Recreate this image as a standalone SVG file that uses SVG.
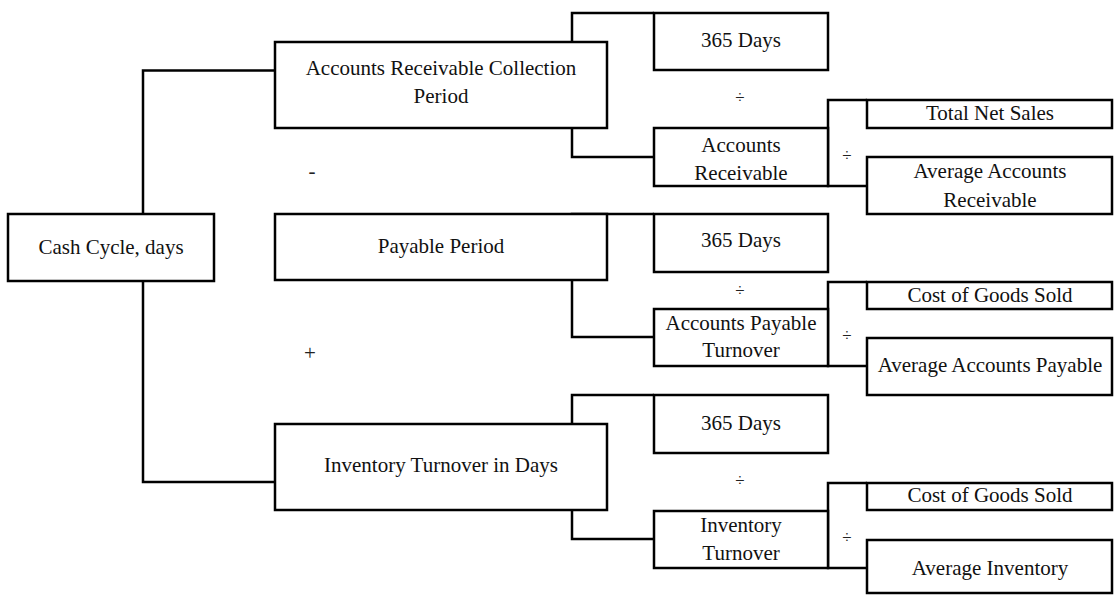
<svg xmlns="http://www.w3.org/2000/svg" width="1114" height="595" viewBox="0 0 1114 595">
  <style>
    .box { fill: #ffffff; stroke: #000000; stroke-width: 2.5; }
    .wire { fill: none; stroke: #000000; stroke-width: 2.5; }
    .lbl { font-family: "Liberation Serif", "Times New Roman", serif; font-size: 21px; fill: #111111; text-anchor: middle; }
    .op { font-family: "Liberation Serif", "Times New Roman", serif; font-size: 17px; fill: #222222; text-anchor: middle; }
    .sign { font-family: "Liberation Serif", "Times New Roman", serif; font-size: 21px; fill: #222222; text-anchor: middle; }
  </style>
  <rect x="0" y="0" width="1114" height="595" fill="#ffffff"/>

  <!-- connectors -->
  <g id="connectors">
    <path class="wire" d="M143 214 V70.5 H275"/>
    <path class="wire" d="M143 281 V482 H275"/>
    <path class="wire" d="M654 13 H572 V157 H654"/>
    <path class="wire" d="M867 100 H828 V186 H867"/>
    <path class="wire" d="M654 214 H572 V337 H654"/>
    <path class="wire" d="M867 282 H828 V366 H867"/>
    <path class="wire" d="M654 395 H572 V539 H654"/>
    <path class="wire" d="M867 483 H828 V568 H867"/>
  </g>

  <!-- operators -->
  <g id="operators">
    <text class="sign" x="312" y="178">-</text>
    <text class="sign" x="310" y="360">+</text>
    <text class="op" x="740" y="103">÷</text>
    <text class="op" x="847" y="161">÷</text>
    <text class="op" x="740" y="296">÷</text>
    <text class="op" x="847" y="341">÷</text>
    <text class="op" x="740" y="486">÷</text>
    <text class="op" x="847" y="543">÷</text>
  </g>

  <g id="cash-cycle">
    <rect class="box" x="8" y="214" width="206" height="67"/>
    <text class="lbl" x="111" y="254">Cash Cycle, days</text>
  </g>

  <g id="ar-collection-period">
    <rect class="box" x="275" y="42" width="332" height="86"/>
    <text class="lbl" x="441" y="75">Accounts Receivable Collection</text>
    <text class="lbl" x="441" y="103">Period</text>
  </g>

  <g id="ar-days">
    <rect class="box" x="654" y="13" width="174" height="57"/>
    <text class="lbl" x="741" y="47">365 Days</text>
  </g>

  <g id="accounts-receivable">
    <rect class="box" x="654" y="128" width="174" height="58"/>
    <text class="lbl" x="741" y="152">Accounts</text>
    <text class="lbl" x="741" y="180">Receivable</text>
  </g>

  <g id="total-net-sales">
    <rect class="box" x="867" y="100" width="245" height="28"/>
    <text class="lbl" x="990" y="120">Total Net Sales</text>
  </g>

  <g id="average-ar">
    <rect class="box" x="867" y="157" width="245" height="57"/>
    <text class="lbl" x="990" y="178">Average Accounts</text>
    <text class="lbl" x="990" y="207">Receivable</text>
  </g>

  <g id="payable-period">
    <rect class="box" x="275" y="214" width="332" height="66"/>
    <text class="lbl" x="441" y="253">Payable Period</text>
  </g>

  <g id="ap-days">
    <rect class="box" x="654" y="214" width="174" height="58"/>
    <text class="lbl" x="741" y="247">365 Days</text>
  </g>

  <g id="ap-turnover">
    <rect class="box" x="654" y="309" width="174" height="57"/>
    <text class="lbl" x="741" y="330">Accounts Payable</text>
    <text class="lbl" x="741" y="357">Turnover</text>
  </g>

  <g id="ap-cogs">
    <rect class="box" x="867" y="282" width="245" height="27"/>
    <text class="lbl" x="990" y="302">Cost of Goods Sold</text>
  </g>

  <g id="average-ap">
    <rect class="box" x="867" y="338" width="245" height="57"/>
    <text class="lbl" x="990" y="372">Average Accounts Payable</text>
  </g>

  <g id="inventory-days">
    <rect class="box" x="275" y="424" width="332" height="86"/>
    <text class="lbl" x="441" y="472">Inventory Turnover in Days</text>
  </g>

  <g id="inv-days">
    <rect class="box" x="654" y="395" width="174" height="58"/>
    <text class="lbl" x="741" y="430">365 Days</text>
  </g>

  <g id="inventory-turnover">
    <rect class="box" x="654" y="511" width="174" height="57"/>
    <text class="lbl" x="741" y="532">Inventory</text>
    <text class="lbl" x="741" y="560">Turnover</text>
  </g>

  <g id="inv-cogs">
    <rect class="box" x="867" y="483" width="245" height="27"/>
    <text class="lbl" x="990" y="502">Cost of Goods Sold</text>
  </g>

  <g id="average-inventory">
    <rect class="box" x="867" y="540" width="245" height="53"/>
    <text class="lbl" x="990" y="575">Average Inventory</text>
  </g>
</svg>
